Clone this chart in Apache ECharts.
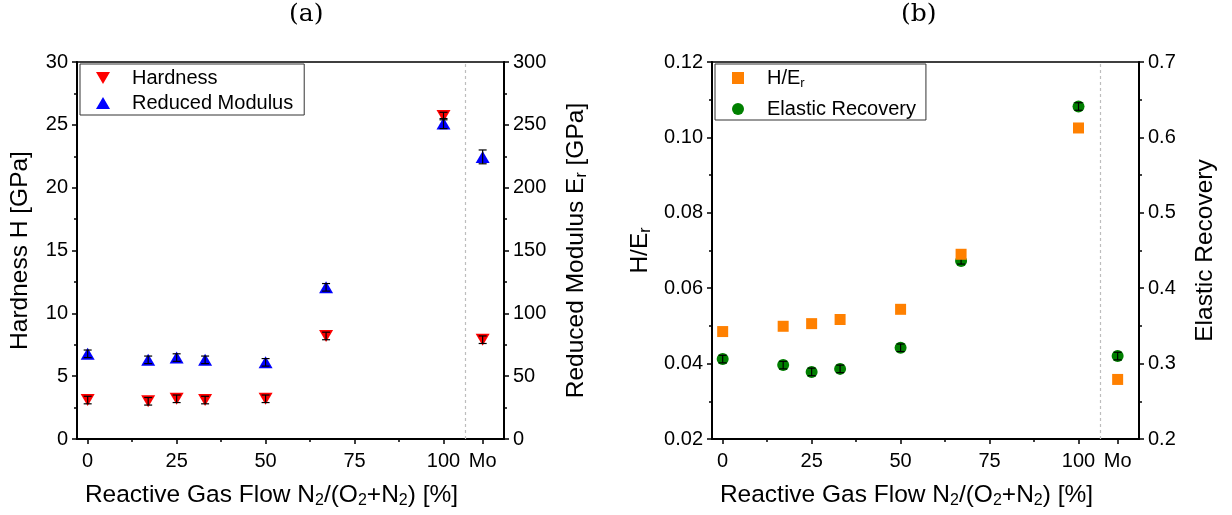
<!DOCTYPE html>
<html>
<head>
<meta charset="utf-8">
<script src="https://cdn.jsdelivr.net/npm/echarts@6/dist/echarts.min.js"></script>
<style>
  html, body { margin: 0; padding: 0; background: #fff; }
  #chart { width: 1232px; height: 515px; }
</style>
</head>
<body>
<div id="chart"></div>
<script>
// Axis position of the metallic Mo reference sample and the divider before it
const MO = 111;
const DIVIDER = 106;

// Reactive gas flow N2/(O2+N2) in %, the last entry is the Mo reference
const flowPositions = [0, 17, 25, 33, 50, 67, 100, MO];
const xMajorTicks = [0, 25, 50, 75, 100, MO];
const xMinorTicks = [12.5, 37.5, 62.5, 87.5];

// (a) nanoindentation results
const hardness = [3.1, 3.0, 3.2, 3.1, 3.2, 8.2, 25.7, 7.9];            // GPa
const hardnessErr = [0.3, 0.3, 0.3, 0.3, 0.3, 0.3, 0.3, 0.3];
const reducedModulus = [67.8, 63, 64.8, 63, 61, 120.7, 251, 224.5];   // GPa
const reducedModulusErr = [3, 3, 3, 3, 3, 3, 4, 5.5];

// (b) derived quantities
const hOverEr = [0.0485, 0.0499, 0.0506, 0.0517, 0.0544, 0.0690, 0.1025, 0.0358];
const elasticRecovery = [0.306, 0.298, 0.289, 0.293, 0.321, 0.436, 0.641, 0.310];
const elasticRecoveryErr = [0.005, 0.005, 0.005, 0.005, 0.005, 0.004, 0.005, 0.005];

const FONT = 'Liberation Sans';
const BLACK = '#000';
const TITLE_SIZE = 24.5;
const DOWN_TRIANGLE = 'path://M0,0L14,0L7,12Z';

const sub = { fontFamily: FONT, fontSize: 16, padding: [12, 0, 0, 0], color: BLACK };
const subSmall = { fontFamily: FONT, fontSize: 13, padding: [11, 0, 0, 0], color: BLACK };

function pairs(xs, ys) {
  return xs.map((x, i) => [x, ys[i]]);
}

// vertical error bars with caps, drawn on top of the markers
function errorBars(xAxisIndex, yAxisIndex, xs, ys, errs) {
  return {
    type: 'custom',
    xAxisIndex, yAxisIndex,
    silent: true,
    z: 10,
    data: xs.map((x, i) => [x, ys[i] - errs[i], ys[i] + errs[i]]),
    encode: { x: 0, y: [1, 2] },
    renderItem(params, api) {
      const x = api.value(0);
      const lo = api.coord([x, api.value(1)]);
      const hi = api.coord([x, api.value(2)]);
      const cap = 4;
      const style = { stroke: BLACK, lineWidth: 1.2 };
      return {
        type: 'group',
        children: [
          { type: 'line', shape: { x1: lo[0], y1: lo[1], x2: hi[0], y2: hi[1] }, style },
          { type: 'line', shape: { x1: lo[0] - cap, y1: lo[1], x2: lo[0] + cap, y2: lo[1] }, style },
          { type: 'line', shape: { x1: hi[0] - cap, y1: hi[1], x2: hi[0] + cap, y2: hi[1] }, style }
        ]
      };
    }
  };
}

function xAxesFor(gridIndex) {
  return [
    {
      type: 'value', gridIndex, position: 'bottom', min: -3, max: 117,
      name: 'Reactive Gas Flow N{s|2}/(O{s|2}+N{s|2}) [%]',
      nameLocation: 'middle', nameGap: 42,
      nameTextStyle: {
        fontFamily: FONT, fontSize: TITLE_SIZE, color: BLACK,
        padding: [0, 38, 0, 0], rich: { s: sub }
      },
      axisLine: { onZero: false, lineStyle: { color: BLACK, width: 2 } },
      axisTick: { customValues: xMajorTicks, length: 5, lineStyle: { color: BLACK, width: 1.5 } },
      axisLabel: {
        customValues: xMajorTicks, margin: 12, fontFamily: FONT, fontSize: 20, color: BLACK,
        formatter: v => (v === MO ? 'Mo' : String(v))
      },
      splitLine: { show: false }
    },
    {
      type: 'value', gridIndex, position: 'bottom', min: -3, max: 117,
      axisLine: { show: false, onZero: false },
      axisTick: { customValues: xMinorTicks, length: 3, lineStyle: { color: BLACK, width: 1.5 } },
      axisLabel: { show: false },
      splitLine: { show: false }
    }
  ];
}

function yAxis(gridIndex, position, min, max, interval, decimals, name, gap) {
  return {
    type: 'value', gridIndex, position, min, max, interval,
    name, nameLocation: 'middle', nameGap: gap, nameRotate: 90,
    nameTextStyle: { fontFamily: FONT, fontSize: TITLE_SIZE, color: BLACK, rich: { s: sub } },
    axisLine: { show: true, onZero: false, lineStyle: { color: BLACK, width: 2 } },
    axisTick: { show: true, length: 5, lineStyle: { color: BLACK, width: 1.5 } },
    minorTick: { show: true, splitNumber: 2, length: 3, lineStyle: { color: BLACK, width: 1.5 } },
    axisLabel: {
      margin: 9, fontFamily: FONT, fontSize: 20, color: BLACK,
      formatter: v => v.toFixed(decimals)
    },
    splitLine: { show: false }
  };
}

const dividerLine = {
  silent: true,
  symbol: 'none',
  label: { show: false },
  lineStyle: { color: '#bdbdbd', type: [3, 3], width: 1.2 },
  data: [{ xAxis: DIVIDER }]
};

const option = {
  animation: false,
  backgroundColor: '#fff',
  textStyle: { fontFamily: FONT },
  title: [
    { text: '(a)', left: 289, top: 2, padding: 0,
      textStyle: { fontFamily: 'DejaVu Serif', fontWeight: 'normal', fontSize: 25, color: BLACK } },
    { text: '(b)', left: 901, top: 2, padding: 0,
      textStyle: { fontFamily: 'DejaVu Serif', fontWeight: 'normal', fontSize: 25, color: BLACK } }
  ],
  grid: [
    { left: 77, top: 62, width: 427, height: 377, show: true, borderColor: BLACK, borderWidth: 1.5 },
    { left: 712, top: 62, width: 427, height: 377, show: true, borderColor: BLACK, borderWidth: 1.5 }
  ],
  legend: [
    {
      data: [{ name: 'Hardness', icon: DOWN_TRIANGLE }, 'Reduced Modulus'],
      orient: 'vertical', left: 80, top: 64,
      padding: [4, 11, 2, 16], itemGap: 5, itemWidth: 14, itemHeight: 12,
      borderColor: '#333', borderWidth: 1,
      textStyle: { fontFamily: FONT, fontSize: 20, color: BLACK, padding: [0, 0, 0, 17] }
    },
    {
      data: ['H/E_r', 'Elastic Recovery'],
      orient: 'vertical', left: 715, top: 64,
      padding: [4, 10, 1, 17], itemGap: 9, itemWidth: 12, itemHeight: 12,
      borderColor: '#333', borderWidth: 1,
      formatter: name => (name === 'H/E_r' ? '{m|H/E}{s|r}' : '{m|' + name + '}'),
      textStyle: {
        fontFamily: FONT, fontSize: 20, color: BLACK, padding: [0, 0, 0, 18],
        rich: { m: { fontFamily: FONT, fontSize: 20, color: BLACK }, s: subSmall }
      }
    }
  ],
  xAxis: [...xAxesFor(0), ...xAxesFor(1)],
  yAxis: [
    yAxis(0, 'left', 0, 30, 5, 0, 'Hardness H [GPa]', 44),
    yAxis(0, 'right', 0, 300, 50, 0, 'Reduced Modulus E{s|r} [GPa]', 58),
    yAxis(1, 'left', 0.02, 0.12, 0.02, 2, 'H/E{s|r}', 58),
    yAxis(1, 'right', 0.2, 0.7, 0.1, 1, 'Elastic Recovery', 54)
  ],
  series: [
    {
      name: 'Hardness', type: 'scatter', xAxisIndex: 0, yAxisIndex: 0,
      symbol: 'triangle', symbolRotate: 180, symbolSize: [14, 12],
      itemStyle: { color: '#ff0000', opacity: 1 },
      data: pairs(flowPositions, hardness),
      markLine: dividerLine
    },
    {
      name: 'Reduced Modulus', type: 'scatter', xAxisIndex: 0, yAxisIndex: 1,
      symbol: 'triangle', symbolSize: [14, 12],
      itemStyle: { color: '#0000ff', opacity: 1 },
      data: pairs(flowPositions, reducedModulus)
    },
    errorBars(0, 0, flowPositions, hardness, hardnessErr),
    errorBars(0, 1, flowPositions, reducedModulus, reducedModulusErr),
    {
      name: 'Elastic Recovery', type: 'scatter', xAxisIndex: 2, yAxisIndex: 3,
      symbol: 'circle', symbolSize: 12,
      itemStyle: { color: '#008000', opacity: 1 },
      data: pairs(flowPositions, elasticRecovery),
      markLine: dividerLine,
      z: 2
    },
    Object.assign(errorBars(2, 3, flowPositions, elasticRecovery, elasticRecoveryErr), { z: 3 }),
    {
      name: 'H/E_r', type: 'scatter', xAxisIndex: 2, yAxisIndex: 2,
      symbol: 'rect', symbolSize: 11,
      itemStyle: { color: '#ff8000', opacity: 1 },
      data: pairs(flowPositions, hOverEr),
      z: 4
    }
  ]
};

const chart = echarts.init(document.getElementById('chart'), null, { renderer: 'canvas' });
chart.setOption(option);
</script>
</body>
</html>
